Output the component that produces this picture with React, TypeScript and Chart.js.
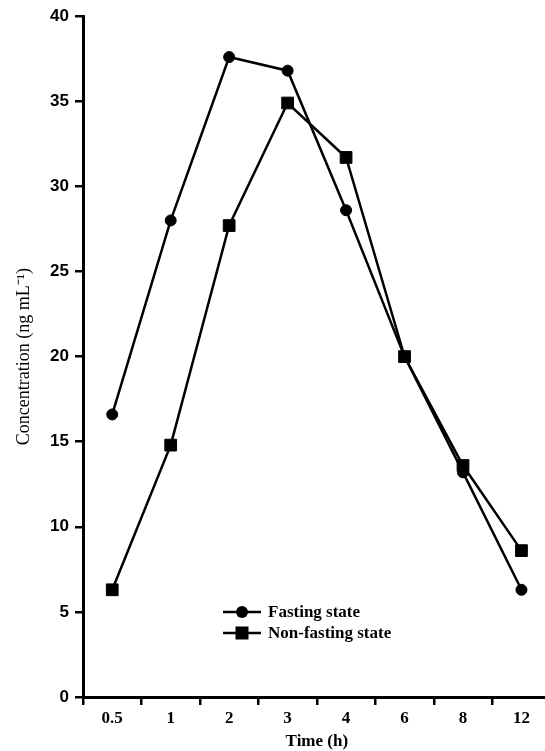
import React, { useEffect, useRef } from 'react';
import { Chart, registerables } from 'chart.js';

Chart.register(...registerables);

// ---- data ----
const timeLabels = ['0.5', '1', '2', '3', '4', '6', '8', '12'];
const fastingValues = [16.6, 28.0, 37.6, 36.8, 28.6, 20.0, 13.2, 6.3];
const nonFastingValues = [6.3, 14.8, 27.7, 34.9, 31.7, 20.0, 13.6, 8.6];
const seriesNames = ['Fasting state', 'Non-fasting state'];
const yMin = 0;
const yMax = 40;
const yStep = 5;
const xTitle = 'Time (h)';
const yTitle = 'Concentration (ng mL\u207B\u00B9)';

const SERIF = "'Liberation Serif', 'Times New Roman', serif";
const SANS = "'Liberation Sans', Arial, sans-serif";

const insideLegend = {
  id: 'insideLegend',
  afterDraw(chart: any) {
    const { ctx, chartArea } = chart;
    const x0 = chartArea.left + 140;
    const rows = [chartArea.bottom - 85, chartArea.bottom - 64];
    chart.data.datasets.forEach((ds: any, i: number) => {
      const y = rows[i];
      ctx.save();
      ctx.strokeStyle = '#000';
      ctx.fillStyle = '#000';
      ctx.lineWidth = 2.5;
      ctx.beginPath();
      ctx.moveTo(x0, y);
      ctx.lineTo(x0 + 38, y);
      ctx.stroke();
      const cx = x0 + 19;
      if (ds.pointStyle === 'rect') {
        const s = 6.5;
        ctx.fillRect(cx - s, y - s, 2 * s, 2 * s);
      } else {
        ctx.beginPath();
        ctx.arc(cx, y, 6, 0, Math.PI * 2);
        ctx.fill();
      }
      ctx.font = `bold 17px ${SERIF}`;
      ctx.textBaseline = 'middle';
      ctx.textAlign = 'left';
      ctx.fillText(ds.label, x0 + 45, y + 1);
      ctx.restore();
    });
  },
};

export default function App() {
  const ref = useRef<HTMLCanvasElement>(null);

  useEffect(() => {
    const chart = new Chart(ref.current as HTMLCanvasElement, {
      type: 'line',
      data: {
        labels: timeLabels,
        datasets: [
          {
            label: seriesNames[0],
            data: fastingValues,
            borderColor: '#000',
            backgroundColor: '#000',
            borderWidth: 2.5,
            pointStyle: 'circle',
            pointRadius: 5.5,
            pointBorderWidth: 1,
            pointBackgroundColor: '#000',
            pointBorderColor: '#000',
            tension: 0,
          },
          {
            label: seriesNames[1],
            data: nonFastingValues,
            borderColor: '#000',
            backgroundColor: '#000',
            borderWidth: 2.5,
            pointStyle: 'rect',
            pointRadius: 8.3,
            pointBorderWidth: 1,
            pointBackgroundColor: '#000',
            pointBorderColor: '#000',
            tension: 0,
          },
        ],
      },
      options: {
        responsive: false,
        animation: false,
        devicePixelRatio: 1,
        layout: { padding: { top: 16, right: 5, left: 0, bottom: 0 } },
        plugins: {
          legend: { display: false },
          tooltip: { enabled: false },
        },
        scales: {
          x: {
            type: 'category',
            offset: true,
            grid: {
              display: true,
              offset: true,
              drawOnChartArea: false,
              drawTicks: true,
              tickLength: 8,
              color: '#000',
              lineWidth: 2.5,
            },
            border: { display: true, color: '#000', width: 3 },
            ticks: {
              color: '#000',
              font: { family: SERIF, size: 17, weight: 'bold' },
              padding: 3,
              maxRotation: 0,
              autoSkip: false,
            },
            title: {
              display: true,
              text: xTitle,
              color: '#000',
              font: { family: SERIF, size: 17, weight: 'bold', lineHeight: 1 },
              padding: { top: 0, bottom: 1 },
            },
            afterFit(scale: any) {
              scale.height = 54;
            },
          },
          y: {
            type: 'linear',
            min: yMin,
            max: yMax,
            grid: {
              display: true,
              drawOnChartArea: false,
              drawTicks: true,
              tickLength: 8,
              color: '#000',
              lineWidth: 2.5,
            },
            border: { display: true, color: '#000', width: 3 },
            ticks: {
              stepSize: yStep,
              color: '#000',
              font: { family: SANS, size: 17, weight: 'bold' },
              padding: 6,
            },
            title: {
              display: true,
              text: yTitle,
              color: '#000',
              font: { family: SERIF, size: 18, weight: 'normal', lineHeight: 1.2 },
              padding: { top: 13, bottom: 0 },
            },
            afterFit(scale: any) {
              scale.width = 83;
            },
          },
        },
      },
      plugins: [insideLegend],
    } as any);
    return () => chart.destroy();
  }, []);

  return (
    <div
      style={{
        position: 'fixed',
        left: 0,
        top: 0,
        width: 545,
        height: 751,
        overflow: 'hidden',
        background: '#fff',
      }}
    >
      <canvas ref={ref} width={560} height={751} style={{ display: 'block', width: 560, height: 751 }} />
    </div>
  );
}
